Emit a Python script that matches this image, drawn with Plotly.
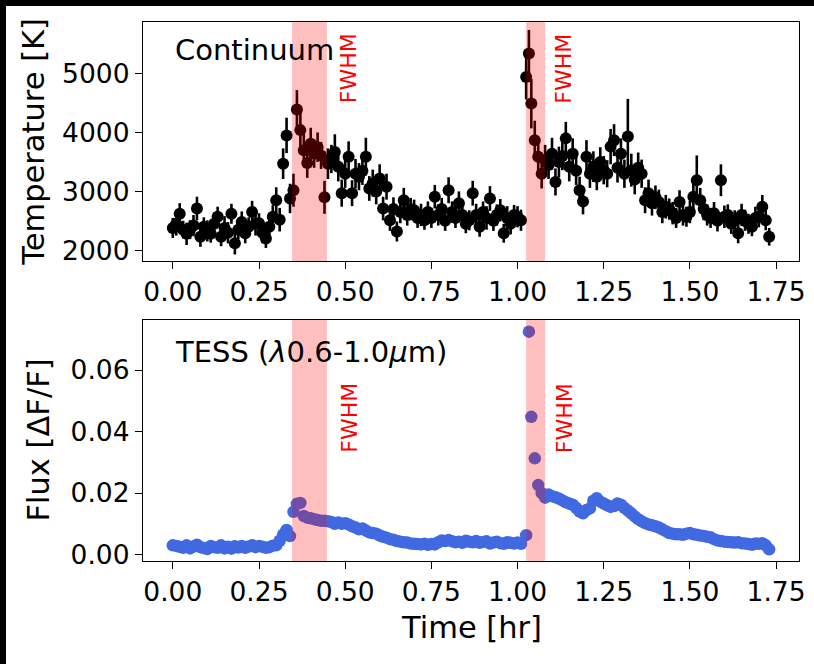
import plotly.graph_objects as go
from plotly.subplots import make_subplots

time_hr = [
    0.00, 0.01, 0.02, 0.03, 0.04, 0.05, 0.06, 0.07, 0.08, 0.09,
    0.10, 0.11, 0.12, 0.13, 0.14, 0.15, 0.16, 0.17, 0.18, 0.19,
    0.20, 0.21, 0.22, 0.23, 0.24, 0.25, 0.26, 0.27, 0.28, 0.29,
    0.30, 0.31, 0.32, 0.33, 0.34, 0.35, 0.36, 0.37, 0.38, 0.39,
    0.40, 0.41, 0.42, 0.43, 0.44, 0.45, 0.46, 0.47, 0.48, 0.49,
    0.50, 0.51, 0.52, 0.53, 0.54, 0.55, 0.56, 0.57, 0.58, 0.59,
    0.60, 0.61, 0.62, 0.63, 0.64, 0.65, 0.66, 0.67, 0.68, 0.69,
    0.70, 0.71, 0.72, 0.73, 0.74, 0.75, 0.76, 0.77, 0.78, 0.79,
    0.80, 0.81, 0.82, 0.83, 0.84, 0.85, 0.86, 0.87, 0.88, 0.89,
    0.90, 0.91, 0.92, 0.93, 0.94, 0.95, 0.96, 0.97, 0.98, 0.99,
    1.00, 1.01, 1.025, 1.033, 1.04, 1.05, 1.06, 1.07, 1.08, 1.09,
    1.10, 1.11, 1.12, 1.13, 1.14, 1.15, 1.16, 1.17, 1.18, 1.19,
    1.20, 1.21, 1.22, 1.23, 1.24, 1.25, 1.26, 1.27, 1.28, 1.29,
    1.30, 1.31, 1.32, 1.33, 1.34, 1.35, 1.36, 1.37, 1.38, 1.39,
    1.40, 1.41, 1.42, 1.43, 1.44, 1.45, 1.46, 1.47, 1.48, 1.49,
    1.50, 1.51, 1.52, 1.53, 1.54, 1.55, 1.56, 1.57, 1.58, 1.59,
    1.60, 1.61, 1.62, 1.63, 1.64, 1.65, 1.66, 1.67, 1.68, 1.69,
    1.70, 1.71, 1.72, 1.73,
]

temperature_k = [
    2380, 2450, 2620, 2350, 2280, 2350, 2420, 2710, 2230, 2400,
    2330, 2280, 2450, 2570, 2230, 2380, 2300, 2620, 2120, 2350,
    2480, 2290, 2400, 2650, 2450, 2460, 2300, 2200, 2400, 2570,
    2850, 2520, 3470, 3950, 2880, 3020, 4390, 4040, 3700, 3480,
    3810, 3640, 3750, 3610, 2900, 3470, 3550, 3670, 3420, 2970,
    3300, 3590, 2970, 3300, 3250, 3350, 3590, 3050, 3140, 3000,
    3220, 2710, 3080, 2510, 2700, 2320, 2650, 2850, 2600, 2700,
    2680, 2550, 2600, 2510, 2650, 2550, 2910, 2600, 2700, 2500,
    3020, 2650, 2550, 2800, 2600, 2450, 2510, 2970, 2600, 2400,
    2650, 2550, 2880, 2500, 2600, 2680, 2290, 2550, 2450, 2600,
    2570, 2510, 4940, 5340, 4490, 3870, 3590, 3300, 3530, 3450,
    3640, 3160, 3500, 3600, 3900, 3420, 3640, 3350, 3020, 2830,
    3590, 3300, 3420, 3250, 3500, 3360, 3300, 3760, 3870, 3400,
    3640, 3300, 3930, 3360, 3200, 3400, 3300, 2850, 2970, 2800,
    2900, 2820, 2650, 2740, 2700, 2630, 2550, 2820, 2600, 2570,
    2650, 2910, 3190, 2850, 2700, 2600, 2550, 2630, 2500, 3190,
    2570, 2600, 2450, 2500, 2290, 2600, 2510, 2450, 2400, 2550,
    2570, 2740, 2510, 2230,
]

temperature_err = [
    170, 200, 180, 150, 190, 160, 180, 200, 170, 160,
    180, 150, 190, 170, 160, 200, 180, 170, 190, 160,
    180, 170, 160, 190, 200, 170, 180, 160, 190, 200,
    220, 200, 260, 300, 250, 280, 330, 300, 280, 250,
    270, 240, 250, 230, 280, 260, 240, 300, 250, 230,
    240, 260, 220, 250, 230, 240, 320, 210, 230, 220,
    240, 200, 220, 180, 200, 170, 190, 210, 180, 190,
    180, 170, 190, 160, 180, 170, 200, 180, 190, 170,
    220, 180, 170, 200, 180, 160, 170, 210, 190, 170,
    180, 200, 210, 170, 180, 190, 160, 200, 180, 170,
    180, 180, 380, 400, 420, 330, 300, 250, 260, 240,
    270, 230, 260, 240, 280, 250, 260, 240, 230, 220,
    280, 240, 260, 230, 250, 240, 230, 300, 270, 250,
    260, 240, 640, 280, 250, 260, 240, 220, 230, 210,
    200, 210, 190, 200, 180, 190, 170, 200, 180, 170,
    190, 320, 420, 210, 190, 180, 170, 190, 180, 270,
    190, 180, 170, 180, 170, 190, 180, 170, 160, 190,
    180, 200, 170, 150,
]

tess_flux = [
    0.0030, 0.0028, 0.0025, 0.0022, 0.0030, 0.0020, 0.0026, 0.0032, 0.0024, 0.0021,
    0.0018, 0.0028, 0.0024, 0.0022, 0.0030, 0.0020, 0.0025, 0.0019, 0.0027, 0.0023,
    0.0028, 0.0022, 0.0026, 0.0030, 0.0024, 0.0028, 0.0025, 0.0022, 0.0024, 0.0029,
    0.0030, 0.0045, 0.0065, 0.0080, 0.0060, 0.0139, 0.0165, 0.0168, 0.0125, 0.0120,
    0.0118, 0.0115, 0.0112, 0.0110, 0.0110, 0.0108, 0.0106, 0.0100, 0.0104, 0.0100,
    0.0102, 0.0098, 0.0092, 0.0088, 0.0082, 0.0085, 0.0078, 0.0072, 0.0070, 0.0068,
    0.0062, 0.0058, 0.0055, 0.0050, 0.0048, 0.0044, 0.0042, 0.0040, 0.0039, 0.0036,
    0.0035, 0.0034, 0.0033, 0.0035, 0.0032, 0.0034, 0.0033, 0.0040, 0.0046, 0.0044,
    0.0047, 0.0043, 0.0040, 0.0042, 0.0038, 0.0045, 0.0042, 0.0040, 0.0044, 0.0038,
    0.0041, 0.0043, 0.0036, 0.0039, 0.0042, 0.0037, 0.0035, 0.0040, 0.0038, 0.0036,
    0.0039, 0.0035, 0.0063, 0.0725, 0.0448, 0.0313, 0.0226, 0.0200, 0.0185, 0.0195,
    0.0190, 0.0186, 0.0182, 0.0176, 0.0170, 0.0166, 0.0162, 0.0152, 0.0140, 0.0134,
    0.0145, 0.0150, 0.0175, 0.0183, 0.0172, 0.0166, 0.0160, 0.0155, 0.0158, 0.0166,
    0.0162, 0.0152, 0.0143, 0.0134, 0.0124, 0.0115, 0.0108, 0.0102, 0.0098, 0.0095,
    0.0092, 0.0088, 0.0082, 0.0076, 0.0070, 0.0068, 0.0066, 0.0066, 0.0064, 0.0068,
    0.0070, 0.0066, 0.0064, 0.0062, 0.0060, 0.0058, 0.0056, 0.0050, 0.0046, 0.0044,
    0.0042, 0.0041, 0.0040, 0.0039, 0.0040, 0.0037, 0.0036, 0.0034, 0.0032, 0.0036,
    0.0035, 0.0037, 0.0030, 0.0017,
]

fwhm_spans = [(0.346, 0.447), (1.025, 1.080)]
fwhm_label_x = [0.51, 1.135]

x_tick_vals = [0.0, 0.25, 0.5, 0.75, 1.0, 1.25, 1.5, 1.75]
x_tick_text = ["0.00", "0.25", "0.50", "0.75", "1.00", "1.25", "1.50", "1.75"]
t_tick_vals = [2000, 3000, 4000, 5000]
t_tick_text = ["2000", "3000", "4000", "5000"]
f_tick_vals = [0.0, 0.02, 0.04, 0.06]
f_tick_text = ["0.00", "0.02", "0.04", "0.06"]

FONT = "DejaVu Sans"
TICK_SIZE = 26.5
LABEL_SIZE = 29
TITLE_SIZE = 30.5

fig = make_subplots(rows=2, cols=1)

fig.add_trace(go.Scatter(
    x=time_hr, y=temperature_k, mode="markers",
    marker=dict(color="black", size=12, line=dict(width=0)),
    error_y=dict(type="data", array=temperature_err, color="black", thickness=2.6, width=0),
    showlegend=False, hoverinfo="skip"), row=1, col=1)

fig.add_trace(go.Scatter(
    x=time_hr, y=tess_flux, mode="markers",
    marker=dict(color="royalblue", size=12.5, line=dict(width=0)),
    showlegend=False, hoverinfo="skip"), row=2, col=1)

for (a, b) in fwhm_spans:
    for xr, yr in (("x", "y domain"), ("x2", "y2 domain")):
        fig.add_shape(type="rect", xref=xr, yref=yr, x0=a, x1=b, y0=0, y1=1,
                      fillcolor="rgba(255,0,0,0.25)", line=dict(width=0), layer="above")

for lx in fwhm_label_x:
    fig.add_annotation(x=lx, xref="x", y=0.805, yref="y domain", text="FWHM", textangle=-90,
                       showarrow=False, font=dict(family=FONT, size=22, color="red"),
                       xanchor="center", yanchor="middle")
    fig.add_annotation(x=lx, xref="x2", y=0.593, yref="y2 domain", text="FWHM", textangle=-90,
                       showarrow=False, font=dict(family=FONT, size=22, color="red"),
                       xanchor="center", yanchor="middle")

fig.add_annotation(x=0.045, xref="x domain", y=0.882, yref="y domain", text="Continuum",
                   showarrow=False, font=dict(family=FONT, size=LABEL_SIZE, color="black"),
                   xanchor="left", yanchor="middle")
fig.add_annotation(x=0.045, xref="x2 domain", y=0.867, yref="y2 domain",
                   text="TESS (<i>λ</i>0.6-1.0<i>μ</i>m)",
                   showarrow=False, font=dict(family=FONT, size=LABEL_SIZE, color="black"),
                   xanchor="left", yanchor="middle")

fig.add_annotation(x=-0.166, xref="paper", y=0.778, yref="paper", text="Temperature [K]",
                   textangle=-90, showarrow=False,
                   font=dict(family=FONT, size=TITLE_SIZE, color="black"),
                   xanchor="center", yanchor="middle")
fig.add_annotation(x=-0.160, xref="paper", y=0.2236, yref="paper", text="Flux [ΔF/F]",
                   textangle=-90, showarrow=False,
                   font=dict(family=FONT, size=TITLE_SIZE, color="black"),
                   xanchor="center", yanchor="middle")
fig.add_annotation(x=0.5, xref="paper", y=-0.124, yref="paper", text="Time [hr]",
                   showarrow=False, font=dict(family=FONT, size=TITLE_SIZE, color="black"),
                   xanchor="center", yanchor="middle")

axis_common = dict(showline=True, mirror=True, linecolor="black", linewidth=1.3,
                   ticks="outside", ticklen=7, tickwidth=1.3, tickcolor="black",
                   showgrid=False, zeroline=False,
                   tickfont=dict(family=FONT, size=TICK_SIZE, color="black"))

fig.update_layout(
    width=808, height=658,
    margin=dict(l=137, r=9, t=16, b=103),
    paper_bgcolor="white", plot_bgcolor="white",
    font=dict(family=FONT, color="black"),
    xaxis=dict(domain=[0, 1], range=[-0.0865, 1.8165], tickvals=x_tick_vals, ticktext=x_tick_text,
               anchor="y", **axis_common),
    yaxis=dict(domain=[0.5566, 1], range=[1819, 5875], tickvals=t_tick_vals, ticktext=t_tick_text,
               anchor="x", **axis_common),
    xaxis2=dict(domain=[0, 1], range=[-0.0865, 1.8165], tickvals=x_tick_vals, ticktext=x_tick_text,
                anchor="y2", **axis_common),
    yaxis2=dict(domain=[0, 0.4471], range=[-0.0021, 0.0763], tickvals=f_tick_vals, ticktext=f_tick_text,
                anchor="x2", **axis_common),
)

page_style = ("document.documentElement.style.background='black';"
              "document.body.style.background='black';"
              "document.body.style.margin='6px 0 0 6px';"
              "document.body.style.overflow='hidden';")

fig.write_html("out.html", post_script=page_style)
